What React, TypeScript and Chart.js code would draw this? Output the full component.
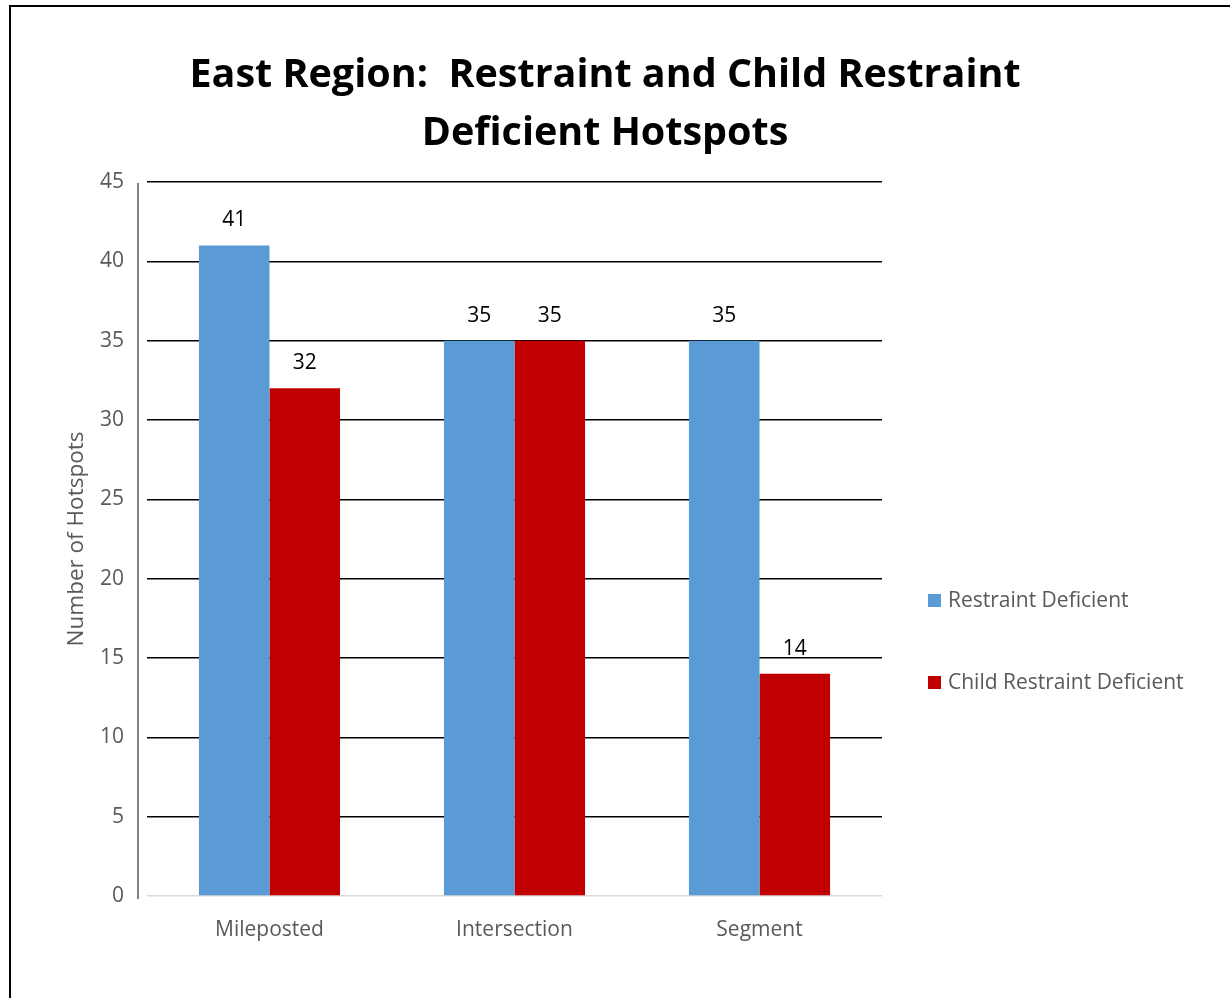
import React, { useEffect, useRef } from "react";
import { Chart, registerables } from "chart.js";

Chart.register(...registerables);

const categories = ["Mileposted", "Intersection", "Segment"];
const seriesNames = ["Restraint Deficient", "Child Restraint Deficient"];
const restraintDeficient = [41, 35, 35];
const childRestraintDeficient = [32, 35, 14];
const seriesColors = ["#5B9BD5", "#C00000"];
const titleLines = ["East Region:  Restraint and Child Restraint", "Deficient Hotspots"];
const yAxisTitle = "Number of Hotspots";
const yMin = 0;
const yMax = 45;
const yStep = 5;

const FONT = "'Open Sans', 'DejaVu Sans', sans-serif";

const extrasPlugin = {
  id: "extras",
  afterDatasetsDraw(chart: any) {
    const { ctx, chartArea } = chart;
    ctx.save();
    // title
    ctx.fillStyle = "#000";
    ctx.font = `bold 39.5px ${FONT}`;
    ctx.textAlign = "center";
    ctx.textBaseline = "middle";
    titleLines.forEach((line, i) => {
      ctx.fillText(line, 605, 76 + i * 58);
    });
    // y axis line, offset from grid
    ctx.strokeStyle = "#595959";
    ctx.lineWidth = 1.5;
    ctx.beginPath();
    ctx.moveTo(chartArea.left - 9, chartArea.top + 1);
    ctx.lineTo(chartArea.left - 9, chartArea.bottom + 3);
    ctx.stroke();
    // data labels
    ctx.fillStyle = "#000";
    ctx.font = `21px ${FONT}`;
    chart.data.datasets.forEach((ds: any, di: number) => {
      const meta = chart.getDatasetMeta(di);
      meta.data.forEach((bar: any, i: number) => {
        ctx.fillText(String(ds.data[i]), bar.x, bar.y - 25);
      });
    });
    // legend
    const lx = chartArea.right + 46;
    const ys = [601, 683];
    chart.data.datasets.forEach((ds: any, di: number) => {
      const y = ys[di];
      ctx.fillStyle = ds.backgroundColor;
      ctx.fillRect(lx, y - 7, 13, 13);
      ctx.fillStyle = "#595959";
      ctx.textAlign = "left";
      ctx.fillText(ds.label, lx + 20, y);
    });
    ctx.restore();
  },
};

export default function App() {
  const ref = useRef<HTMLCanvasElement | null>(null);
  useEffect(() => {
    if (!ref.current) return;
    const chart = new Chart(ref.current, {
      type: "bar",
      data: {
        labels: categories,
        datasets: [
          {
            label: seriesNames[0],
            data: restraintDeficient,
            backgroundColor: seriesColors[0],
            categoryPercentage: 0.576,
            barPercentage: 1,
          },
          {
            label: seriesNames[1],
            data: childRestraintDeficient,
            backgroundColor: seriesColors[1],
            categoryPercentage: 0.576,
            barPercentage: 1,
          },
        ],
      },
      options: {
        responsive: false,
        animation: false,
        layout: { padding: { left: 61, right: 348, top: 182, bottom: 42 } },
        plugins: {
          legend: { display: false },
          tooltip: { enabled: false },
          title: { display: false },
        },
        scales: {
          x: {
            grid: { display: false },
            border: { display: false },
            ticks: { color: "#595959", font: { family: FONT, size: 21 }, padding: 13 },
            afterFit(scale: any) {
              scale.height = 60;
            },
          },
          y: {
            min: yMin,
            max: yMax,
            border: { display: false },
            grid: {
              drawTicks: false,
              lineWidth: 1.5,
              color: (c: any) => (c.tick && c.tick.value === 0 ? "#D9D9D9" : "#000"),
            },
            ticks: { stepSize: yStep, color: "#595959", font: { family: FONT, size: 21 }, padding: 23 },
            title: {
              display: true,
              text: yAxisTitle,
              color: "#595959",
              font: { family: FONT, size: 22.5 },
              padding: { top: 2, bottom: 2 },
            },
            afterFit(scale: any) {
              scale.width = 86;
            },
          },
        },
      },
      plugins: [extrasPlugin],
    } as any);
    return () => chart.destroy();
  }, []);
  return (
    <div style={{ position: "fixed", left: 0, top: 0, width: 1230, height: 998, overflow: "hidden", background: "#fff" }}>
      <div
        style={{
          position: "absolute",
          left: 9,
          top: 5,
          width: 1240,
          height: 1010,
          border: "2px solid #000",
        }}
      />
      <canvas ref={ref} width={1230} height={998} style={{ position: "absolute", left: 0, top: 0 }} />
    </div>
  );
}
